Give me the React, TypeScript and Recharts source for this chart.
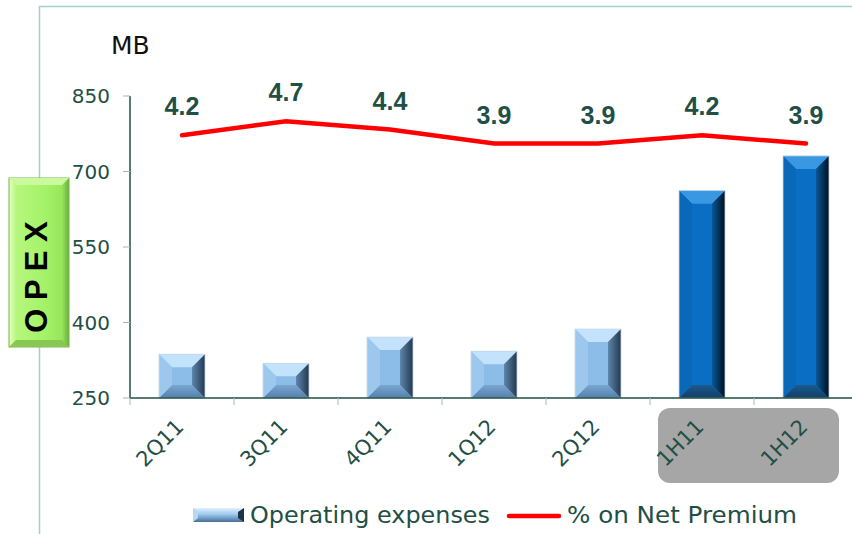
import React from 'react';
import { ComposedChart, Bar, Line, XAxis, YAxis, LabelList } from 'recharts';

const categories = ['2Q11', '3Q11', '4Q11', '1Q12', '2Q12', '1H11', '1H12'];
const operatingExpenses = [337, 319, 371, 343, 387, 662, 731];
const pctOnNetPremium = [4.2, 4.7, 4.4, 3.9, 3.9, 4.2, 3.9];
const opexTicks = [250, 400, 550, 700, 850];
const halfYearCategories = ['1H11', '1H12'];

const data = categories.map((c, i) => ({
  category: c,
  opex: operatingExpenses[i],
  pct: pctOnNetPremium[i],
}));

const TEXT = '#1f4f45';
const FONT = '"DejaVu Sans", Verdana, sans-serif';
const BOLD = '"Liberation Sans", Arial, sans-serif';
const TICK = '#9fb8b2';

const LIGHT = {
  face: '#8cbde8',
  top: '#c3e2fb',
  left: '#9cc8ee',
  bottom: 'url(#lightBottom)',
  right: 'url(#lightRight)',
};
const DARK = {
  face: '#0a6fc4',
  top: '#3a97e2',
  left: '#0a68b8',
  bottom: 'url(#darkBottom)',
  right: 'url(#darkRight)',
};

const BevelBar = (props: any) => {
  const { x, y, width: w, height: h, payload } = props;
  if (!h || h <= 0) return null;
  const pal = halfYearCategories.includes(payload?.category) ? DARK : LIGHT;
  const b = Math.min(13, h / 2.5, w / 3);
  const pts = (arr: number[][]) => arr.map((p) => p.join(',')).join(' ');
  return (
    <g>
      <rect x={x} y={y} width={w} height={h} fill={pal.face} />
      <polygon points={pts([[x, y], [x + w, y], [x + w - b, y + b], [x + b, y + b]])} fill={pal.top} />
      <polygon points={pts([[x, y + h], [x + w, y + h], [x + w - b, y + h - b], [x + b, y + h - b]])} fill={pal.bottom} />
      <polygon points={pts([[x, y], [x + b, y + b], [x + b, y + h - b], [x, y + h]])} fill={pal.left} />
      <polygon points={pts([[x + w, y], [x + w - b, y + b], [x + w - b, y + h - b], [x + w, y + h]])} fill={pal.right} />
      <rect x={x} y={y} width={w} height={h} fill="none" stroke="#c9d9e6" strokeWidth={0.8} />
    </g>
  );
};

const XTick = (props: any) => {
  const { x, y, payload } = props;
  const off = payload?.offset ?? 52;
  const tx = x + 3;
  const ty = y + 30;
  return (
    <g>
      <line x1={x - off} x2={x - off} y1={y} y2={y + 7} stroke={TICK} />
      <text
        x={tx}
        y={ty}
        transform={`rotate(-45 ${tx} ${ty})`}
        textAnchor="end"
        fill={TEXT}
        fontSize={21}
        fontFamily={FONT}
      >
        {payload.value}
      </text>
    </g>
  );
};

const PctLabel = (props: any) => {
  const { x, y, value } = props;
  return (
    <text x={x} y={y - 20} textAnchor="middle" fontFamily={BOLD} fontWeight="bold" fontSize={25} fill={TEXT}>
      {Number(value).toFixed(1)}
    </text>
  );
};

const Background = () => (
  <svg width={852} height={534} style={{ position: 'absolute', left: 0, top: 0 }}>
    <defs>
      <linearGradient id="opexBody" x1="0" y1="0" x2="1" y2="0">
        <stop offset="0" stopColor="#e6ffbe" />
        <stop offset="0.12" stopColor="#b6f77e" />
        <stop offset="0.6" stopColor="#a4f268" />
        <stop offset="0.88" stopColor="#98e65c" />
        <stop offset="1" stopColor="#6caf3e" />
      </linearGradient>
      <linearGradient id="legendBar" x1="0" y1="0" x2="0" y2="1">
        <stop offset="0" stopColor="#dff0fd" />
        <stop offset="0.45" stopColor="#9fcaf0" />
        <stop offset="1" stopColor="#466f98" />
      </linearGradient>
    </defs>
    <path d="M39.5 534 L39.5 6.5 L852 6.5" fill="none" stroke="#9fd3cb" strokeWidth={1.5} />
    <rect x={658} y={408} width={181} height={75} rx={12} fill="#a6a6a6" />
    <text x={111} y={54} fontFamily={FONT} fontSize={25} fill="#111">
      MB
    </text>
    <g>
      <rect x={9} y={178} width={60} height={169} fill="url(#opexBody)" stroke="#78b34e" strokeWidth={1} />
      <polygon points="9,178 69,178 62,185 16,185" fill="#c9fb9c" />
      <polygon points="9,347 69,347 62,340 16,340" fill="#86c852" />
      <text
        x={36}
        y={277}
        transform="rotate(-90 36 277)"
        textAnchor="middle"
        dominantBaseline="central"
        fontFamily={BOLD}
        fontWeight="bold"
        fontSize={31}
        fill="#000"
      >
        O P E X
      </text>
    </g>
    <g>
      <rect x={193} y={508} width={51} height={14} fill="url(#legendBar)" />
      <polygon points="244,508 244,522 238,518 238,512" fill="#1f3346" />
      <polygon points="193,508 193,522 198,518 198,512" fill="#b6d6f2" />
      <text x={250} y={523} fontFamily={FONT} fontSize={23} fill={TEXT} textLength={240} lengthAdjust="spacingAndGlyphs">
        Operating expenses
      </text>
      <line x1={509} x2={559} y1={516} y2={516} stroke="#ff0000" strokeWidth={4.5} strokeLinecap="round" />
      <text x={567} y={523} fontFamily={FONT} fontSize={23} fill={TEXT} textLength={230} lengthAdjust="spacingAndGlyphs">
        % on Net Premium
      </text>
    </g>
  </svg>
);

export default function App() {
  return (
    <div style={{ position: 'absolute', left: 0, top: 0, width: 852, height: 534, overflow: 'hidden', background: '#fff' }}>
      <Background />
      <div style={{ position: 'absolute', left: 0, top: 0 }}>
        <ComposedChart
          width={870}
          height={534}
          data={data}
          margin={{ top: 96, right: 12, bottom: 106, left: 70 }}
        >
          <defs>
            <linearGradient id="lightRight" x1="0" y1="0" x2="1" y2="0">
              <stop offset="0" stopColor="#5f86ad" />
              <stop offset="1" stopColor="#22384e" />
            </linearGradient>
            <linearGradient id="lightBottom" x1="0" y1="0" x2="0" y2="1">
              <stop offset="0" stopColor="#7aa6d2" />
              <stop offset="1" stopColor="#557fab" />
            </linearGradient>
            <linearGradient id="darkRight" x1="0" y1="0" x2="1" y2="0">
              <stop offset="0" stopColor="#09589a" />
              <stop offset="1" stopColor="#00101f" />
            </linearGradient>
            <linearGradient id="darkBottom" x1="0" y1="0" x2="0" y2="1">
              <stop offset="0" stopColor="#1a5a8e" />
              <stop offset="1" stopColor="#123f66" />
            </linearGradient>
          </defs>
          <XAxis
            dataKey="category"
            interval={0}
            tickSize={0}
            tickMargin={0}
            tickLine={false}
            height={30}
            axisLine={{ stroke: TEXT, strokeWidth: 1.5 }}
            tick={<XTick />}
          />
          <YAxis
            yAxisId="left"
            domain={[250, 850]}
            ticks={opexTicks}
            interval={0}
            width={60}
            tickSize={7}
            tickMargin={13}
            axisLine={{ stroke: TEXT, strokeWidth: 1.5 }}
            tickLine={{ stroke: TICK }}
            tick={{ fill: TEXT, fontSize: 20, fontFamily: FONT }}
          />
          <YAxis yAxisId="pct" orientation="right" hide domain={[-5.2, 5.6]} />
          <Bar yAxisId="left" dataKey="opex" barSize={46} shape={<BevelBar />} isAnimationActive={false} />
          <Line
            yAxisId="pct"
            dataKey="pct"
            type="linear"
            stroke="#ff0000"
            strokeWidth={4.5}
            strokeLinecap="round"
            dot={false}
            activeDot={false}
            isAnimationActive={false}
          >
            <LabelList dataKey="pct" content={PctLabel} />
          </Line>
        </ComposedChart>
      </div>
    </div>
  );
}
